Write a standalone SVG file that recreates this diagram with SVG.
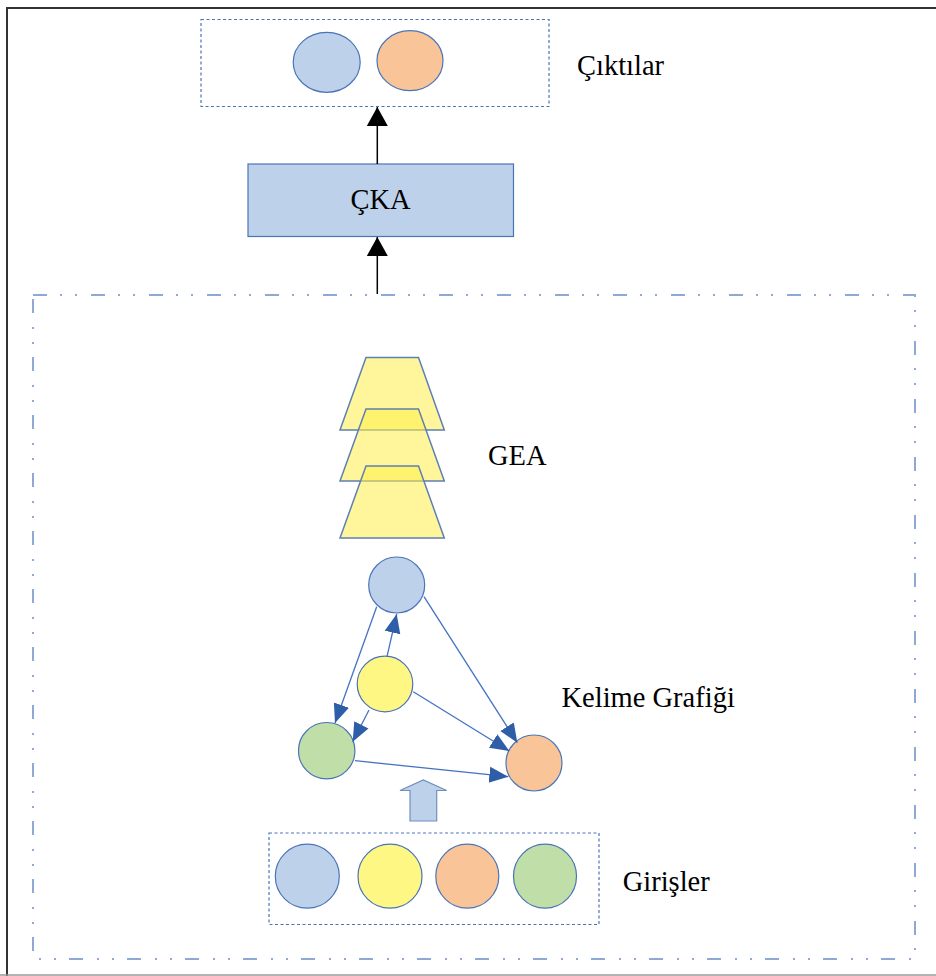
<svg xmlns="http://www.w3.org/2000/svg" width="936" height="976" viewBox="0 0 936 976">
  <style>
    .lbl { font-family: "Liberation Serif", "Times New Roman", serif; font-size: 28.5px; fill: #000; }
    .dotbox { fill: none; stroke: #4A74B8; stroke-width: 1.2; stroke-dasharray: 3 2.5; }
    .node { stroke: #4A74B8; stroke-width: 1.2; }
    .blue { fill: #BDD1EA; }
    .orange { fill: #F9C498; }
    .yellow { fill: #FFF784; }
    .green { fill: #C0DFA8; }
    .trap { fill: #FFEF4A; fill-opacity: 0.55; stroke: #5E7FB4; stroke-width: 1.5; }
    .edge { stroke: #4472C4; stroke-width: 1.3; fill: none; marker-end: url(#blueHead); }
    .flow { stroke: #000; stroke-width: 1.5; fill: none; marker-end: url(#blackHead); }
  </style>
  <defs>
    <marker id="blueHead" markerUnits="userSpaceOnUse" markerWidth="20" markerHeight="18" viewBox="0 0 20 18" refX="19" refY="9" orient="auto">
      <path d="M0,1 L19,9 L0,17 Z" fill="#2F5EA8"/>
    </marker>
    <marker id="blackHead" markerUnits="userSpaceOnUse" markerWidth="20" markerHeight="22" viewBox="0 0 20 22" refX="19" refY="11" orient="auto">
      <path d="M0,0.5 L19,11 L0,21.5 Z" fill="#000"/>
    </marker>
  </defs>

  <!-- page frame -->
  <g id="frame">
    <rect x="0" y="0" width="936" height="976" fill="#fff"/>
    <path d="M7,976 V8 H936" fill="none" stroke="#333" stroke-width="2"/>
    <line x1="0" y1="975" x2="936" y2="975" stroke="#999" stroke-width="1.5"/>
  </g>

  <!-- dash-dot-dot container for the graph part -->
  <g id="encoder-region">
    <rect x="33" y="295" width="882" height="664" fill="none" stroke="#8EA9D4" stroke-width="2" stroke-dasharray="14 13 2 13 2 14"/>
  </g>

  <g id="outputs">
    <rect class="dotbox" x="201" y="19.5" width="348" height="87"/>
    <ellipse class="node blue" cx="326.7" cy="62.3" rx="33.5" ry="30"/>
    <ellipse class="node orange" cx="410" cy="60.7" rx="33" ry="30"/>
    <text class="lbl" x="577" y="75">Çıktılar</text>
  </g>

  <g id="cka">
    <rect class="node blue" x="248" y="164" width="265.5" height="72.5"/>
    <text class="lbl" x="380.5" y="209" text-anchor="middle">ÇKA</text>
  </g>

  <g id="gea">
    <polygon class="trap" points="366,357.5 418.5,357.5 444.3,430 340,430"/>
    <polygon class="trap" points="366,409 418.5,409 444.3,481 340,481"/>
    <polygon class="trap" points="366,466 418.5,466 444.3,538 340,538"/>
    <text class="lbl" x="488" y="465">GEA</text>
  </g>

  <g id="word-graph">
    <circle id="g-blue" class="node blue" cx="396.7" cy="585" r="28"/>
    <circle id="g-yellow" class="node yellow" cx="385" cy="684" r="27.8"/>
    <circle id="g-green" class="node green" cx="326.7" cy="750.7" r="28.2"/>
    <circle id="g-orange" class="node orange" cx="534" cy="763" r="28"/>
    <text class="lbl" x="561.5" y="706.7">Kelime Grafiği</text>
  </g>

  <g id="inputs">
    <rect class="dotbox" x="269" y="833" width="330" height="91.5"/>
    <ellipse class="node blue" cx="307.3" cy="876.2" rx="32" ry="32"/>
    <ellipse class="node yellow" cx="390" cy="876.2" rx="32" ry="32"/>
    <ellipse class="node orange" cx="467.3" cy="876.2" rx="31.5" ry="32"/>
    <ellipse class="node green" cx="545" cy="876.2" rx="31.5" ry="32"/>
    <text class="lbl" x="622.7" y="891">Girişler</text>
  </g>

  <g id="connectors">
    <line class="flow" x1="377.3" y1="164" x2="377.3" y2="107"/>
    <line class="flow" x1="377.3" y1="294" x2="377.3" y2="237"/>
    <line class="edge" x1="376.7" y1="606.7" x2="335" y2="723"/>
    <line class="edge" x1="387" y1="656.7" x2="396.7" y2="614"/>
    <line class="edge" x1="369" y1="710" x2="352.7" y2="741.7"/>
    <line class="edge" x1="413.3" y1="691.7" x2="509.3" y2="751"/>
    <line class="edge" x1="424" y1="596.7" x2="517.3" y2="742.7"/>
    <line class="edge" x1="355" y1="760.7" x2="508.3" y2="776.7"/>
    <!-- block arrow from inputs into the graph -->
    <path d="M410,821 V790.5 H400 L423.3,780 L446.7,790.5 H436.7 V821 Z" fill="#BDD1EA" stroke="#6F8FBF" stroke-width="1.2"/>
  </g>
</svg>
